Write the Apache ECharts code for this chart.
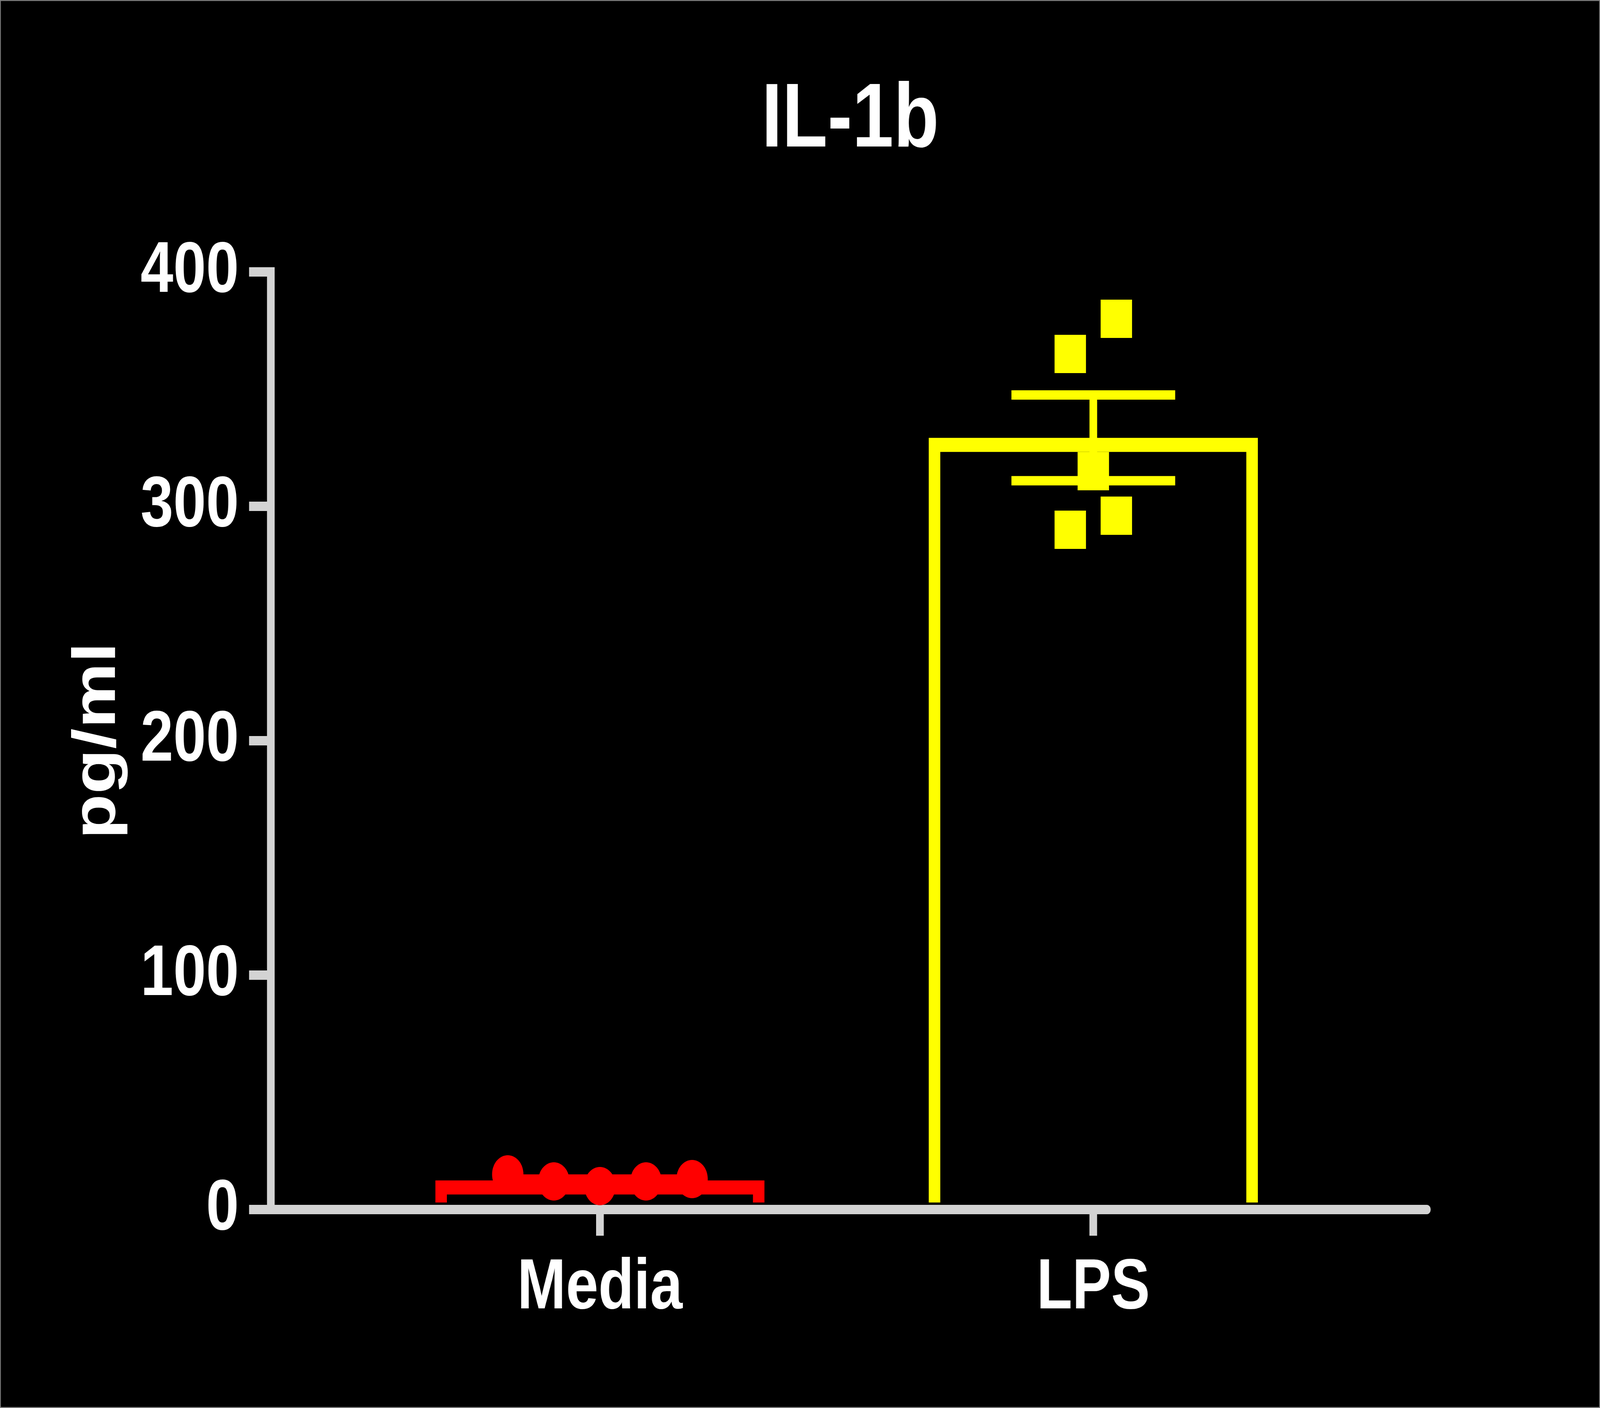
<!DOCTYPE html>
<html>
<head>
<meta charset="utf-8">
<title>IL-1b</title>
<script src="https://cdn.jsdelivr.net/npm/echarts@6.0.0/dist/echarts.min.js"></script>
<style>
  html, body { margin: 0; padding: 0; background: #000; overflow: hidden; }
  #main { width: 4998px; height: 3604px; transform-origin: 0 0; }
</style>
</head>
<body>
<div id="main"></div>
<script>
// data
var categories = ['Media', 'LPS'];
var media_points = [15, 12, 10, 12, 13];
var lps_points = [380, 365, 315, 296, 290];
var group_mean = [12.4, 329.2];
var group_sem = [0.6, 18.3];
var y_ticks = [0, 100, 200, 300, 400];

// looks
var colors = ['#ff0000', '#ffff00'];
var axis_color = '#d3d3d3';
var font = '"Liberation Sans", Arial, sans-serif';
var bar_frac = 0.667;   // bar width, share of one category step
var cap_frac = 0.332;   // error cap width
var bar_line = 36;
var err_line = 24;
var dot_step = 0.0934;  // spacing of the scatter columns
var media_jitter = [-2, -1, 0, 1, 2];
var lps_jitter = [0.5, -0.5, 0, 0.5, -0.5];

// 窗口比4998窄时横向压缩整张图
var box = document.getElementById('main');
var sx = Math.min(1, window.innerWidth / 4998);
var sy = Math.min(1, window.innerHeight / 3604);
if (sx < 1 || sy < 1) {
    box.style.transform = 'scale(' + sx + ',' + sy + ')';
}

function make_points(vals, cat, jitter) { //点的位置：类别+错开
    var res = [];
    for (var i = 0; i < vals.length; i++) {
        res.push([cat + jitter[i] * dot_step, vals[i]]);
    }
    return res;
}

var bar_data = [];
var err_data = [];
for (var i = 0; i < categories.length; i++) {
    bar_data.push({ value: [i, group_mean[i]], itemStyle: { color: colors[i] } });
    err_data.push({ value: [i, group_mean[i], group_sem[i]], itemStyle: { color: colors[i] } });
}

function render_bar(params, api) { //空心柱，底边不画
    var x = api.value(0);
    var top = api.coord([x, api.value(1)]);
    var base = api.coord([x, 0]);
    var half = api.size([1, 0])[0] * bar_frac / 2;
    var ins = bar_line / 2;
    var l = top[0] - half + ins, r = top[0] + half - ins;
    return {
        type: 'polyline',
        shape: { points: [[l, base[1] - ins], [l, top[1] + ins], [r, top[1] + ins], [r, base[1] - ins]] },
        style: { fill: null, stroke: api.visual('color'), lineWidth: bar_line, lineJoin: 'miter', lineCap: 'butt' }
    };
}

function render_err(params, api) { //误差线 mean ± sem
    var x = api.value(0), m = api.value(1), s = api.value(2);
    var up = api.coord([x, m + s]);
    var dn = api.coord([x, m - s]);
    var half = api.size([1, 0])[0] * cap_frac / 2;
    var st = { stroke: api.visual('color'), lineWidth: err_line, lineCap: 'butt' };
    return {
        type: 'group',
        children: [
            { type: 'line', shape: { x1: up[0], y1: up[1], x2: dn[0], y2: dn[1] }, style: st },
            { type: 'line', shape: { x1: up[0] - half, y1: up[1], x2: up[0] + half, y2: up[1] }, style: st },
            { type: 'line', shape: { x1: dn[0] - half, y1: dn[1], x2: dn[0] + half, y2: dn[1] }, style: st }
        ]
    };
}

var chart = echarts.init(box);
var option = {
    backgroundColor: '#000',
    animation: false,
    graphic: [{
        type: 'rect', silent: true,
        shape: { x: 1, y: 1, width: 4996, height: 3602 },
        style: { fill: null, stroke: '#808080', lineWidth: 3 }
    }],
    title: {
        text: 'IL-1b',
        left: 2651,
        top: 190,
        textAlign: 'center',
        textStyle: { color: '#fff', fontSize: 232, fontWeight: 'bold', fontFamily: font }
    },
    grid: { left: 846, right: 541, top: 696, bottom: 508, containLabel: false, outerBoundsMode: 'none' },
    xAxis: {
        type: 'value',
        min: -0.667,
        max: 1.676,
        splitLine: { show: false },
        axisLine: { show: true, onZero: false, lineStyle: { color: axis_color, width: 24 } },
        axisTick: { show: true, customValues: [0, 1], length: 67, lineStyle: { color: axis_color, width: 24 } },
        axisLabel: {
            customValues: [0, 1],
            margin: 112,
            color: '#fff', fontSize: 182, fontWeight: 'bold', fontFamily: font,
            formatter: function (v) { return categories[Math.round(v)]; }
        }
    },
    yAxis: {
        type: 'value',
        min: y_ticks[0],
        max: y_ticks[y_ticks.length - 1],
        interval: 100,
        name: 'pg/ml',
        nameLocation: 'middle',
        nameGap: 445,
        nameTextStyle: { color: '#fff', fontSize: 189, fontWeight: 'bold', fontFamily: font },
        splitLine: { show: false },
        axisLine: { show: true, onZero: false, lineStyle: { color: axis_color, width: 24, cap: 'square' } },
        axisTick: { show: true, length: 68, lineStyle: { color: axis_color, width: 24 } },
        axisLabel: { margin: 100, color: '#fff', fontSize: 184, fontWeight: 'bold', fontFamily: font }
    },
    series: [
        { type: 'custom', renderItem: render_bar, data: bar_data, encode: { x: 0, y: 1 }, z: 2 },
        { type: 'custom', renderItem: render_err, data: err_data, encode: { x: 0, y: [1, 2] }, z: 3 },
        {
            type: 'scatter', symbol: 'circle', symbolSize: 98,
            itemStyle: { color: colors[0], opacity: 1 },
            data: make_points(media_points, 0, media_jitter), z: 4
        },
        {
            type: 'scatter', symbol: 'rect', symbolSize: 98,
            itemStyle: { color: colors[1], opacity: 1 },
            data: make_points(lps_points, 1, lps_jitter), z: 4
        }
    ]
};
chart.setOption(option);
</script>
</body>
</html>
